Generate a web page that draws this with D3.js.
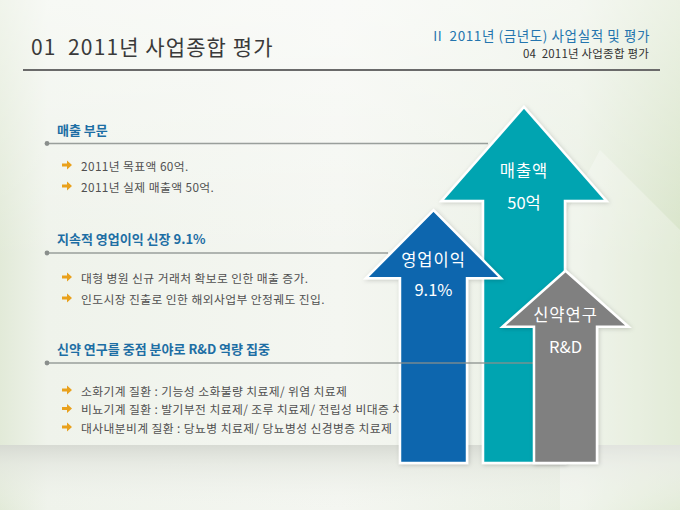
<!DOCTYPE html>
<html>
<head>
<meta charset="utf-8">
<script src="https://cdn.jsdelivr.net/npm/d3@7"></script>
<style>
body { margin: 0; background: #f2f5ef; }
svg { display: block; }
svg text { white-space: pre; }
</style>
</head>
<body>
<script>
// slide text
const pageTitle = "01  2011년 사업종합 평가";
const crumbs = ["II  2011년 (금년도) 사업실적 및 평가", "04  2011년 사업종합 평가"];
const sectionTitles = ["매출 부문", "지속적 영업이익 신장 9.1%", "신약 연구를 중점 분야로 R&D 역량 집중"];
const sectionBullets = [
	["2011년 목표액 60억.", "2011년 실제 매출액 50억."],
	["대형 병원 신규 거래처 확보로 인한 매출 증가.", "인도시장 진출로 인한 해외사업부 안정궤도 진입."],
	["소화기계 질환 : 기능성 소화불량 치료제/ 위염 치료제",
	 "비뇨기계 질환 : 발기부전 치료제/ 조루 치료제/ 전립성 비대증 치료제",
	 "대사내분비계 질환 : 당뇨병 치료제/ 당뇨병성 신경병증 치료제"]
];

// arrows
const arrowNames = ["영업이익", "매출액", "신약연구"];
const arrowValues = ["9.1%", "50억", "R&D"];
const arrowLevels = [71, 100, 54];

// layout (not data)
const W = 680, H = 510;
const sectionY = [129, 238.5, 348.5];
const bulletFirst = [36, 38.5, 41.5];
const bulletStep = [21, 21, 18.5];
const ruleEnd = [488, 388, 533];
const arrowCx = [433.5, 524, 565.5];
const shaftHalf = [33.5, 41, 31.5];
const headHalf = [67.5, 82.5, 63];
const headH = [68, 94, 56];
const nameOff = [49, 63, 43];
const valueOff = [79, 94.5, 75];
const arrowColors = ["#0766ae", "#06a4b1", "#808080"];

const font = "'Noto Sans CJK KR', 'Noto Sans', sans-serif";

const svg = d3.select("body").append("svg")
	.attr("width", W)
	.attr("height", H)
	.style("font-family", font);

const defs = svg.append("defs");

const bgGrad = defs.append("linearGradient").attr("id", "bg").attr("x1", 0).attr("x2", 1).attr("y1", 0).attr("y2", 0);
[[0, "#e2ead8"], [0.07, "#eff3eb"], [0.5, "#f4f6f1"], [0.85, "#eaf0e4"], [1, "#d8e4c9"]]
	.forEach(d => bgGrad.append("stop").attr("offset", d[0]).attr("stop-color", d[1]));

const bandGrad = defs.append("linearGradient").attr("id", "band").attr("x1", 0).attr("x2", 0).attr("y1", 0).attr("y2", 1);
[[0, "#d6d9d2", 0.95], [0.3, "#e4e7e0", 0.7], [1, "#f3f5f0", 0]]
	.forEach(d => bandGrad.append("stop").attr("offset", d[0]).attr("stop-color", d[1]).attr("stop-opacity", d[2]));

const topGrad = defs.append("linearGradient").attr("id", "topfade").attr("x1", 0).attr("x2", 0).attr("y1", 0).attr("y2", 1);
[[0, "#ffffff", 0.5], [1, "#ffffff", 0]]
	.forEach(d => topGrad.append("stop").attr("offset", d[0]).attr("stop-color", d[1]).attr("stop-opacity", d[2]));

const shadow = defs.append("filter").attr("id", "shadow").attr("x", "-20%").attr("y", "-20%").attr("width", "140%").attr("height", "140%");
shadow.append("feDropShadow").attr("dx", 1).attr("dy", 1).attr("stdDeviation", 2).attr("flood-color", "#000").attr("flood-opacity", 0.18);

svg.append("rect").attr("width", W).attr("height", H).attr("fill", "url(#bg)");
svg.append("rect").attr("width", W).attr("height", 260).attr("fill", "url(#topfade)");
svg.append("rect").attr("y", 445).attr("width", W).attr("height", 65).attr("fill", "url(#band)");

// faint decorative arrow behind on the right
svg.append("path")
	.attr("d", "M600,150 L690,240 L690,510 L560,510 L560,300 L520,300 Z")
	.attr("fill", "#ffffff")
	.attr("opacity", 0.28);

// header
svg.append("text")
	.attr("x", 31).attr("y", 55)
	.attr("font-size", 21)
	.attr("letter-spacing", 1.1)
	.attr("fill", "#3a3a3a")
	.text(pageTitle);

svg.append("text")
	.attr("x", 650).attr("y", 41)
	.attr("text-anchor", "end")
	.attr("font-size", 13.5)
	.attr("letter-spacing", 0.6)
	.attr("fill", "#2475ae")
	.text(crumbs[0]);

svg.append("text")
	.attr("x", 649).attr("y", 57.5)
	.attr("text-anchor", "end")
	.attr("font-size", 11.5)
	.attr("letter-spacing", 0.2)
	.attr("fill", "#333")
	.text(crumbs[1]);

svg.append("line")
	.attr("x1", 23).attr("x2", 660)
	.attr("y1", 70).attr("y2", 70)
	.attr("stroke", "#6a6a6a")
	.attr("stroke-width", 2);

// sections
const bulletArrow = "M0,-1.6 L5,-1.6 L5,-4.5 L10,0 L5,4.5 L5,1.6 L0,1.6 Z";

function drawRule(i) {
	const y = sectionY[i] + 14.5;
	svg.append("line")
		.attr("x1", 47).attr("x2", ruleEnd[i])
		.attr("y1", y).attr("y2", y)
		.attr("stroke", "#8a8f8c")
		.attr("stroke-opacity", 0.85)
		.attr("stroke-width", 1.6);
	svg.append("circle")
		.attr("cx", 47).attr("cy", y).attr("r", 2.4)
		.attr("fill", "#8a8f8c");
}

sectionTitles.forEach((t, i) => {
	svg.append("text")
		.attr("x", 57).attr("y", sectionY[i])
		.attr("dominant-baseline", "central")
		.attr("font-size", 13)
		.attr("font-weight", "bold")
		.attr("fill", "#1d6ea4")
		.text(t);

	if (i < 2) drawRule(i);

	const g = svg.append("g");
	g.selectAll("path")
		.data(sectionBullets[i])
		.join("path")
		.attr("d", bulletArrow)
		.attr("transform", (d, j) => `translate(62,${sectionY[i] + bulletFirst[i] + j * bulletStep[i]})`)
		.attr("fill", "#e9a11c");
	g.selectAll("text")
		.data(sectionBullets[i])
		.join("text")
		.attr("x", 81)
		.attr("y", (d, j) => sectionY[i] + bulletFirst[i] + j * bulletStep[i])
		.attr("dominant-baseline", "central")
		.attr("font-size", 11.8)
		.attr("letter-spacing", 0.4)
		.attr("fill", "#505050")
		.text(d => d);
});

// arrows
const y = d3.scaleLinear().domain([0, 100]).range([463, 107]);

function arrowPath(i) {
	const cx = arrowCx[i], tip = y(arrowLevels[i]), base = tip + headH[i], bottom = y(0);
	const p = d3.path();
	p.moveTo(cx, tip);
	p.lineTo(cx + headHalf[i], base);
	p.lineTo(cx + shaftHalf[i], base);
	p.lineTo(cx + shaftHalf[i], bottom);
	p.lineTo(cx - shaftHalf[i], bottom);
	p.lineTo(cx - shaftHalf[i], base);
	p.lineTo(cx - headHalf[i], base);
	p.closePath();
	return p.toString();
}

function drawArrow(i) {
	const g = svg.append("g");
	g.append("path")
		.attr("d", arrowPath(i))
		.attr("fill", arrowColors[i])
		.attr("stroke", "#ffffff")
		.attr("stroke-width", 2.5)
		.attr("stroke-linejoin", "miter")
		.attr("filter", "url(#shadow)");
	const tip = y(arrowLevels[i]);
	g.append("text")
		.attr("x", arrowCx[i]).attr("y", tip + nameOff[i])
		.attr("text-anchor", "middle")
		.attr("dominant-baseline", "central")
		.attr("font-size", 16.5)
		.attr("letter-spacing", 1)
		.attr("fill", "#ffffff")
		.text(arrowNames[i]);
	g.append("text")
		.attr("x", arrowCx[i]).attr("y", tip + valueOff[i])
		.attr("text-anchor", "middle")
		.attr("dominant-baseline", "central")
		.attr("font-size", 16.5)
		.attr("fill", "#ffffff")
		.text(arrowValues[i]);
}

drawArrow(1);
drawArrow(0);
drawRule(2);
drawArrow(2);
</script>
</body>
</html>
